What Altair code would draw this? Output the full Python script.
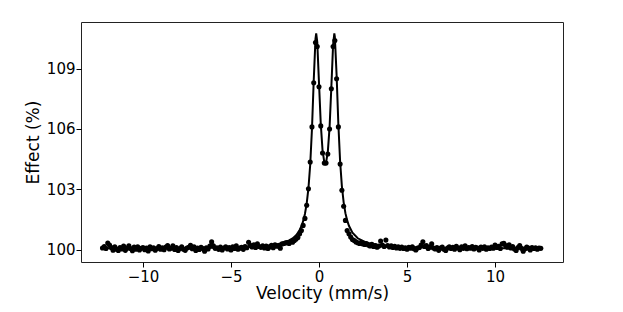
import altair as alt
import pandas as pd

# Measured spectrum (velocity in mm/s, effect in %)
velocity = [
    -12.3, -12.2, -12.1, -12.0, -11.9, -11.8, -11.7, -11.6, -11.5, -11.4,
    -11.3, -11.2, -11.1, -11.0, -10.9, -10.8, -10.7, -10.6, -10.5, -10.4,
    -10.3, -10.2, -10.1, -10.0, -9.9, -9.8, -9.7, -9.6, -9.5, -9.4,
    -9.3, -9.2, -9.1, -9.0, -8.9, -8.8, -8.7, -8.6, -8.5, -8.4,
    -8.3, -8.2, -8.1, -8.0, -7.9, -7.8, -7.7, -7.6, -7.5, -7.4,
    -7.3, -7.2, -7.1, -7.0, -6.9, -6.8, -6.7, -6.6, -6.5, -6.4,
    -6.3, -6.2, -6.1, -6.0, -5.9, -5.8, -5.7, -5.6, -5.5, -5.4,
    -5.3, -5.2, -5.1, -5.0, -4.9, -4.8, -4.7, -4.6, -4.5, -4.4,
    -4.3, -4.2, -4.1, -4.0, -3.9, -3.8, -3.7, -3.6, -3.5, -3.4,
    -3.3, -3.2, -3.1, -3.0, -2.9, -2.8, -2.7, -2.6, -2.5, -2.4,
    -2.3, -2.2, -2.1, -2.0, -1.9, -1.8, -1.7, -1.6, -1.5, -1.4,
    -1.3, -1.2, -1.1, -1.0, -0.9, -0.8, -0.7, -0.6, -0.5, -0.4,
    -0.3, -0.2, -0.1, 0.0, 0.1, 0.2, 0.3, 0.4, 0.5, 0.6,
    0.7, 0.8, 0.9, 1.0, 1.1, 1.2, 1.3, 1.4, 1.5, 1.6,
    1.7, 1.8, 1.9, 2.0, 2.1, 2.2, 2.3, 2.4, 2.5, 2.6,
    2.7, 2.8, 2.9, 3.0, 3.1, 3.2, 3.3, 3.4, 3.5, 3.6,
    3.7, 3.8, 3.9, 4.0, 4.1, 4.2, 4.3, 4.4, 4.5, 4.6,
    4.7, 4.8, 4.9, 5.0, 5.1, 5.2, 5.3, 5.4, 5.5, 5.6,
    5.7, 5.8, 5.9, 6.0, 6.1, 6.2, 6.3, 6.4, 6.5, 6.6,
    6.7, 6.8, 6.9, 7.0, 7.1, 7.2, 7.3, 7.4, 7.5, 7.6,
    7.7, 7.8, 7.9, 8.0, 8.1, 8.2, 8.3, 8.4, 8.5, 8.6,
    8.7, 8.8, 8.9, 9.0, 9.1, 9.2, 9.3, 9.4, 9.5, 9.6,
    9.7, 9.8, 9.9, 10.0, 10.1, 10.2, 10.3, 10.4, 10.5, 10.6,
    10.7, 10.8, 10.9, 11.0, 11.1, 11.2, 11.3, 11.4, 11.5, 11.6,
    11.7, 11.8, 11.9, 12.0, 12.1, 12.2, 12.3, 12.4, 12.5, 12.6,
]
effect = [
    100.08, 100.15, 100.05, 100.32, 100.22, 100.10, 99.97, 100.14, 100.02, 99.95,
    100.10, 100.03, 100.17, 99.96, 100.07, 100.19, 100.05, 99.94, 100.12, 100.02,
    100.14, 99.98, 100.06, 100.10, 99.99, 100.08, 99.93, 100.13, 100.04, 100.09,
    99.97, 100.05, 100.15, 100.02, 100.09, 99.99, 100.12, 100.20, 100.03, 100.07,
    100.18, 100.00, 100.10, 99.95, 100.05, 100.13, 100.02, 99.96, 100.08, 100.11,
    100.21, 100.04, 100.14, 99.95, 100.07, 100.00, 100.11, 100.05, 99.92, 100.09,
    100.03, 100.17, 100.38, 100.19, 100.06, 100.09, 100.01, 100.12, 99.98, 100.08,
    100.14, 100.03, 100.10, 99.98, 100.13, 100.05, 100.18, 100.02, 100.07, 100.11,
    100.01, 100.15, 100.09, 100.36, 100.21, 100.13, 100.24, 100.10, 100.29, 100.15,
    100.11, 100.19, 100.08, 100.17, 100.05, 100.13, 100.21, 100.09, 100.24, 100.16,
    100.19, 100.07, 100.28, 100.30, 100.33, 100.35, 100.30, 100.40, 100.36, 100.45,
    100.52, 100.60, 100.78, 100.95, 101.20, 101.55, 102.20, 103.02, 104.35, 106.10,
    108.30, 110.30, 110.10, 108.10, 106.15, 104.80, 104.30, 104.30, 104.75, 106.00,
    108.00, 110.10, 110.40, 108.50, 106.10, 104.25, 102.95, 102.15, 101.45, 100.95,
    100.78, 100.62, 100.50, 100.45, 100.38, 100.34, 100.30, 100.36, 100.28, 100.25,
    100.30, 100.22, 100.18, 100.26, 100.15, 100.20, 100.12, 100.17, 100.42, 100.22,
    100.15, 100.47, 100.20, 100.13, 100.18, 100.10, 100.16, 100.08, 100.14, 100.06,
    100.12, 100.05, 100.09, 100.02, 100.11, 100.07, 100.13, 100.04, 99.98, 100.08,
    100.10, 100.22, 100.39, 100.15, 100.20, 100.05, 100.12, 100.28, 100.08, 100.03,
    100.10, 99.96, 100.07, 100.12, 100.01, 99.95, 100.08, 100.14, 100.05, 100.11,
    100.02, 100.16, 100.08, 99.99, 100.13, 100.06, 100.18, 100.04, 100.10, 100.07,
    100.15, 100.03, 100.11, 100.08, 99.98, 100.12, 100.06, 100.14, 100.02, 100.09,
    100.05, 100.12, 100.07, 100.22, 100.10, 100.16, 100.05, 100.28, 100.31, 100.20,
    100.12, 100.24, 100.08, 100.15, 100.03, 99.95, 100.10, 100.20, 100.06, 99.92,
    100.04, 100.12, 100.07, 99.98, 100.10, 100.05, 100.09, 100.02, 100.08, 100.06,
]

# Fitted curve
fit_velocity = [
    -12.3, -10.0, -8.0, -6.0, -5.0, -4.0, -3.0, -2.5, -2.0, -1.7,
    -1.5, -1.3, -1.2, -1.1, -1.0, -0.9, -0.8, -0.7, -0.6, -0.5,
    -0.4, -0.3, -0.2, -0.16, -0.1, 0.0, 0.1, 0.2, 0.3, 0.355,
    0.4, 0.5, 0.6, 0.7, 0.8, 0.87, 0.9, 1.0, 1.1, 1.2,
    1.3, 1.4, 1.5, 1.6, 1.7, 1.9, 2.2, 2.7, 3.5, 4.5,
    6.0, 8.0, 10.0, 12.6,
]
fit_effect = [
    100.06, 100.06, 100.07, 100.09, 100.10, 100.13, 100.18, 100.24, 100.34, 100.45,
    100.55, 100.71, 100.83, 100.97, 101.16, 101.41, 101.77, 102.28, 103.05, 104.22,
    106.00, 108.41, 110.48, 110.75, 110.33, 108.28, 106.25, 104.95, 104.35, 104.27,
    104.32, 104.86, 106.08, 108.06, 110.18, 110.75, 110.58, 108.67, 106.22, 104.37,
    103.14, 102.35, 101.81, 101.45, 101.18, 100.84, 100.56, 100.34, 100.20, 100.14,
    100.10, 100.07, 100.07, 100.06,
]

x_ticks = [-10, -5, 0, 5, 10]
y_ticks = [100, 103, 106, 109]

pts = pd.DataFrame({"v": velocity, "e": effect})
fit = pd.DataFrame({"v": fit_velocity, "e": fit_effect})

FONT = "DejaVu Sans"
xs = alt.Scale(domain=[-13.52, 13.86], nice=False, zero=False)
ys = alt.Scale(domain=[99.38, 111.32], nice=False, zero=False)

xax = alt.Axis(
    values=x_ticks, format="d", title="Velocity (mm/s)", grid=False, domain=False,
    tickSize=5, tickColor="#000", labelFontSize=15, labelFont=FONT, labelColor="#000",
    labelPadding=2, titleFont=FONT, titleFontSize=17, titleFontWeight="normal",
    titleColor="#000", titleX=241, titleY=31, titleBaseline="middle", titleAlign="center",
)
yax = alt.Axis(
    values=y_ticks, format="d", title="Effect (%)", grid=False, domain=False,
    tickSize=5, tickColor="#000", labelFontSize=15, labelFont=FONT, labelColor="#000",
    labelPadding=1, titleFont=FONT, titleFontSize=17, titleFontWeight="normal",
    titleColor="#000", titleX=-48, titleY=120, titleAngle=-90,
    titleBaseline="middle", titleAlign="center",
)

points = alt.Chart(pts).mark_circle(size=26, color="#000", opacity=1).encode(
    x=alt.X("v:Q", scale=xs, axis=xax),
    y=alt.Y("e:Q", scale=ys, axis=yax),
)
line = alt.Chart(fit).mark_line(color="#000", strokeWidth=2).encode(
    x=alt.X("v:Q", scale=xs, axis=xax),
    y=alt.Y("e:Q", scale=ys, axis=yax),
    order="v:Q",
)

chart = (
    alt.layer(points, line)
    .properties(
        width=482,
        height=240,
        autosize=alt.AutoSizeParams(type="none"),
        padding={"left": 73, "top": 14, "right": 40, "bottom": 42},
    )
    .configure(background="white")
    .configure_view(stroke="#222", strokeWidth=1)
)

chart.save("out.html", embed_options={"renderer": "svg", "actions": False})
